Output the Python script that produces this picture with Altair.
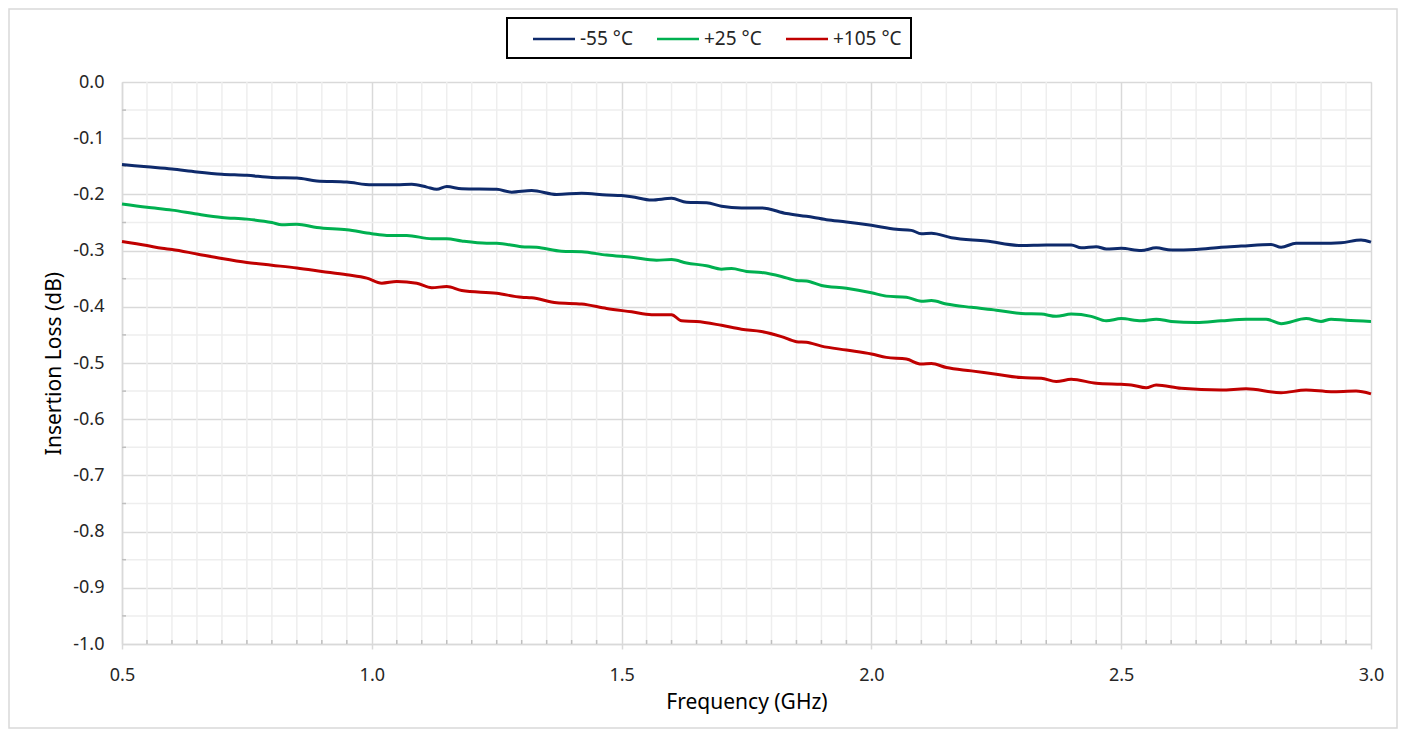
import altair as alt
import pandas as pd

series_names = ["-55 °C", "+25 °C", "+105 °C"]
series_colors = ["#0e2a6b", "#00b050", "#c00000"]

freq_m55 = [0.50, 0.55, 0.60, 0.65, 0.70, 0.75, 0.80, 0.85, 0.89, 0.95, 1.00, 1.05, 1.08, 1.11, 1.13,
            1.15, 1.18, 1.25, 1.28, 1.32, 1.37, 1.42, 1.47, 1.50, 1.52, 1.56, 1.60, 1.63, 1.67, 1.70,
            1.74, 1.78, 1.83, 1.87, 1.91, 1.95, 2.00, 2.05, 2.08, 2.10, 2.12, 2.16, 2.23, 2.30, 2.35,
            2.40, 2.42, 2.45, 2.47, 2.50, 2.54, 2.57, 2.60, 2.65, 2.70, 2.74, 2.80, 2.82, 2.85, 2.90,
            2.94, 2.98, 3.00]
il_m55 = [-0.147, -0.151, -0.155, -0.160, -0.164, -0.166, -0.170, -0.171, -0.176, -0.178, -0.183, -0.183,
          -0.182, -0.187, -0.191, -0.186, -0.190, -0.191, -0.196, -0.193, -0.200, -0.198, -0.201, -0.202,
          -0.204, -0.210, -0.207, -0.214, -0.215, -0.221, -0.224, -0.224, -0.234, -0.239, -0.245, -0.249,
          -0.255, -0.262, -0.264, -0.270, -0.269, -0.277, -0.283, -0.291, -0.290, -0.290, -0.295, -0.293,
          -0.297, -0.296, -0.300, -0.295, -0.299, -0.298, -0.294, -0.292, -0.289, -0.294, -0.287, -0.287,
          -0.286, -0.281, -0.285]

freq_p25 = [0.50, 0.55, 0.60, 0.65, 0.70, 0.75, 0.80, 0.82, 0.85, 0.89, 0.95, 1.00, 1.03, 1.07, 1.12,
            1.15, 1.18, 1.23, 1.25, 1.30, 1.33, 1.38, 1.42, 1.47, 1.52, 1.57, 1.60, 1.63, 1.67, 1.70,
            1.72, 1.75, 1.78, 1.82, 1.85, 1.87, 1.90, 1.95, 2.00, 2.03, 2.07, 2.10, 2.12, 2.15, 2.20,
            2.25, 2.30, 2.34, 2.37, 2.40, 2.44, 2.47, 2.50, 2.54, 2.57, 2.60, 2.65, 2.70, 2.75, 2.79,
            2.82, 2.87, 2.90, 2.92, 2.95, 3.00]
il_p25 = [-0.217, -0.223, -0.228, -0.235, -0.241, -0.244, -0.250, -0.254, -0.253, -0.259, -0.263, -0.270,
          -0.273, -0.273, -0.279, -0.279, -0.283, -0.287, -0.287, -0.293, -0.294, -0.301, -0.302, -0.308,
          -0.312, -0.317, -0.316, -0.322, -0.327, -0.333, -0.332, -0.337, -0.339, -0.346, -0.353, -0.354,
          -0.362, -0.367, -0.375, -0.381, -0.383, -0.390, -0.389, -0.395, -0.401, -0.406, -0.412, -0.413,
          -0.417, -0.413, -0.417, -0.425, -0.421, -0.425, -0.422, -0.426, -0.428, -0.425, -0.422, -0.422,
          -0.430, -0.421, -0.426, -0.422, -0.424, -0.426]

freq_p105 = [0.50, 0.55, 0.58, 0.60, 0.65, 0.70, 0.75, 0.80, 0.85, 0.90, 0.95, 0.99, 1.02, 1.05, 1.09,
             1.12, 1.15, 1.18, 1.25, 1.30, 1.32, 1.37, 1.42, 1.47, 1.52, 1.56, 1.60, 1.62, 1.65, 1.70,
             1.74, 1.78, 1.82, 1.85, 1.87, 1.90, 1.95, 2.00, 2.03, 2.07, 2.10, 2.12, 2.15, 2.20, 2.25,
             2.30, 2.34, 2.37, 2.40, 2.45, 2.50, 2.52, 2.55, 2.57, 2.62, 2.70, 2.75, 2.82, 2.87, 2.92,
             2.97, 3.00]
il_p105 = [-0.284, -0.291, -0.296, -0.298, -0.306, -0.314, -0.321, -0.326, -0.331, -0.337, -0.343, -0.349,
           -0.358, -0.355, -0.358, -0.366, -0.364, -0.371, -0.376, -0.383, -0.384, -0.393, -0.395, -0.403,
           -0.409, -0.414, -0.414, -0.425, -0.426, -0.433, -0.440, -0.444, -0.453, -0.462, -0.463, -0.470,
           -0.477, -0.484, -0.490, -0.493, -0.502, -0.501, -0.508, -0.514, -0.520, -0.526, -0.527, -0.533,
           -0.529, -0.536, -0.538, -0.539, -0.544, -0.539, -0.545, -0.548, -0.546, -0.553, -0.548, -0.551,
           -0.550, -0.555]

x_major = [0.5, 1.0, 1.5, 2.0, 2.5, 3.0]
x_minor = [round(0.5 + 0.05 * i, 2) for i in range(51) if i % 10 != 0]
y_major = [round(-0.1 * i, 1) for i in range(11)]
y_minor = [round(-0.05 - 0.1 * i, 2) for i in range(10)]

rows = []
for name, fs, vs in zip(series_names, [freq_m55, freq_p25, freq_p105], [il_m55, il_p25, il_p105]):
    for f, v in zip(fs, vs):
        rows.append({"series": name, "freq": f, "il": v})
df = pd.DataFrame(rows)

W, H = 1249, 562
FONT = "Noto Sans"
GRID_MAJOR = "#d9d9d9"
GRID_MINOR = "#eeeeee"

xs = alt.Scale(domain=[0.5, 3.0], nice=False, zero=False)
ys = alt.Scale(domain=[-1.0, 0.0], nice=False, zero=False)

border = alt.Chart(pd.DataFrame({"a": [0]})).mark_rect(
    fillOpacity=0, stroke="#d9d9d9", strokeWidth=1.5
).encode(x=alt.value(-113), x2=alt.value(W + 26), y=alt.value(-73), y2=alt.value(H + 84))

vminor = alt.Chart(pd.DataFrame({"freq": x_minor})).mark_rule(color=GRID_MINOR, strokeWidth=1.5).encode(
    x=alt.X("freq:Q", scale=xs)
)
hminor = alt.Chart(pd.DataFrame({"il": y_minor})).mark_rule(color=GRID_MINOR, strokeWidth=1.5).encode(
    y=alt.Y("il:Q", scale=ys)
)
xticks = alt.Chart(pd.DataFrame({"freq": x_minor})).mark_rule(color="#bfbfbf", strokeWidth=1.5).encode(
    x=alt.X("freq:Q", scale=xs), y=alt.value(H - 4), y2=alt.value(H)
)
yticks = alt.Chart(pd.DataFrame({"il": y_minor})).mark_rule(color="#bfbfbf", strokeWidth=1.5).encode(
    y=alt.Y("il:Q", scale=ys), x=alt.value(0), x2=alt.value(4)
)

label_expr = "datum.value == 0 ? '0.0' : replace(format(datum.value, '.1f'), '\u2212', '-')"

lines = alt.Chart(df).mark_line(strokeWidth=3, interpolate="monotone").encode(
    x=alt.X("freq:Q", scale=xs, axis=alt.Axis(
        values=x_major, format=".1f", title="Frequency (GHz)", grid=True, labelFlush=False,
        gridColor=GRID_MAJOR, gridWidth=1.5, tickSize=5, tickColor=GRID_MAJOR, tickWidth=1.5,
        domainColor=GRID_MAJOR, domainWidth=1.5, labelPadding=17, labelFontSize=18,
        labelColor="#262626", titleFontSize=21, titleFontWeight="normal", titleColor="#000000",
        titlePadding=7,
    )),
    y=alt.Y("il:Q", scale=ys, axis=alt.Axis(
        values=y_major, labelExpr=label_expr, title="Insertion Loss (dB)", grid=True, labelFlush=False,
        gridColor=GRID_MAJOR, gridWidth=1.5, tickSize=0, domainColor=GRID_MAJOR, domainWidth=1.5,
        labelPadding=18, labelFontSize=18, labelColor="#262626", titleFontSize=21,
        titleFontWeight="normal", titleColor="#000000", titlePadding=8,
    )),
    color=alt.Color("series:N", scale=alt.Scale(domain=series_names, range=series_colors),
                    legend=alt.Legend(
                        title=None, orient="none", legendX=385, legendY=-64, direction="horizontal",
                        symbolType="M-2,0H2", symbolSize=441, symbolStrokeWidth=2.5, labelFontSize=19,
                        labelColor="#262626", fillColor="white", strokeColor="black", padding=9,
                        columnPadding=7, labelOffset=14, symbolOffset=26,
                    )),
    detail="series:N",
)

chart = alt.layer(border, vminor, hminor, xticks, yticks, lines).properties(
    width=W, height=H,
    autosize=alt.AutoSizeParams(type="none"),
    padding={"left": 114, "top": 74, "right": 28, "bottom": 86},
).configure_view(stroke=None).configure(font=FONT).configure_legend(strokeWidth=2)

chart.save("out.html", embed_options={"renderer": "svg", "actions": False})
